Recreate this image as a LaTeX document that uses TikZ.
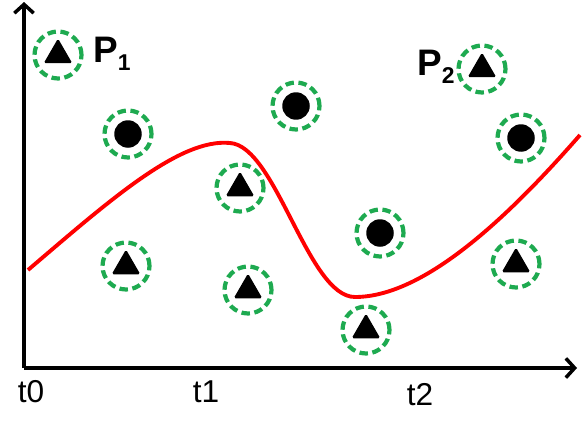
\documentclass[tikz,border=0pt]{standalone}
\usepackage{fontspec}
\setmainfont{Liberation Sans}
\usetikzlibrary{arrows.meta,shapes.geometric}
\definecolor{ringgreen}{RGB}{30,170,80}

\begin{document}
\begin{tikzpicture}[x=0.02cm,y=-0.02cm,
  ring/.style={circle,draw=ringgreen,line width=2.4pt,dash pattern=on 4.8pt off 2.6pt,minimum size=0.94cm,inner sep=0pt},
  tri/.style={regular polygon,regular polygon sides=3,fill=black,minimum size=0.66cm,inner sep=0pt,rounded corners=1pt},
  dot/.style={circle,fill=black,minimum size=0.55cm,inner sep=0pt},
  axis/.style={line width=2pt,-{Straight Barb[length=5pt,width=11pt]}},
  tlabel/.style={font=\fontsize{18}{18}\selectfont},
  plabel/.style={font=\fontsize{21}{21}\selectfont\bfseries,anchor=base west,inner sep=0pt}]

\useasboundingbox (0,0) rectangle (584,426);

% axes
\coordinate (o)    at (24,368);
\coordinate (ytop) at (24,2);
\coordinate (xend) at (577,368);
\draw[axis] (o) -- (ytop);
\draw[axis] (o) -- (xend);

\node[tlabel] (t0) at (31,392)  {t0};
\node[tlabel] (t1) at (206,392) {t1};
\node[tlabel] (t2) at (420,395) {t2};

% red boundary
\draw[red,line width=2.2pt] (28,270) .. controls (110,200) and (180,138) .. (230,143)
  .. controls (276,146) and (308,297) .. (355,297)
  .. controls (425,297) and (510,215) .. (580,135);

% rings
\node[ring] (p1) at (58,55)   {};
\node[ring] (a)  at (128,134) {};
\node[ring] (b)  at (296,106) {};
\node[ring] (c)  at (240,188) {};
\node[ring] (d)  at (126,266) {};
\node[ring] (e)  at (248,290) {};
\node[ring] (f)  at (380,233) {};
\node[ring] (g)  at (366,330) {};
\node[ring] (p2) at (482,69)  {};
\node[ring] (h)  at (521,138) {};
\node[ring] (k)  at (516,264) {};

% objects inside
\node[tri] at (p1) {};
\node[dot] at (a)  {};
\node[dot] at (b)  {};
\node[tri] at (c)  {};
\node[tri] at (d)  {};
\node[tri] at (e)  {};
\node[dot] at (f)  {};
\node[tri] at (g)  {};
\node[tri] at (p2) {};
\node[dot] at (h)  {};
\node[tri] at (k)  {};

\node[plabel] (l1) at (93,62)  {P\raisebox{-0.45ex}{\fontsize{13}{13}\selectfont 1}};
\node[plabel] (l2) at (417,75) {P\raisebox{-0.45ex}{\fontsize{13}{13}\selectfont 2}};

\end{tikzpicture}
\end{document}
